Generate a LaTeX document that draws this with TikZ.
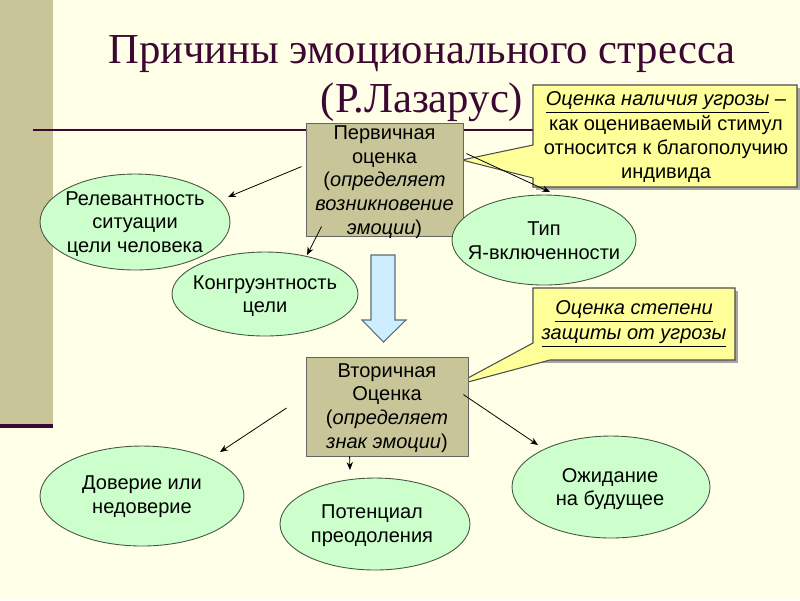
\documentclass[tikz,border=0pt]{standalone}
\usepackage{fontspec}
\setmainfont{Liberation Sans}
\newfontfamily\titlefont{Liberation Serif}
\usetikzlibrary{shapes.geometric,arrows.meta,calc}
\definecolor{bg}{RGB}{255,255,232}
\definecolor{khaki}{RGB}{200,198,152}
\definecolor{mint}{RGB}{204,255,204}
\definecolor{ttl}{RGB}{60,8,50}
\definecolor{callfill}{RGB}{255,255,153}
\definecolor{blueish}{RGB}{204,238,255}
\definecolor{ellline}{RGB}{70,85,70}
\begin{document}
\begin{tikzpicture}[x=0.02cm,y=-0.02cm,
  font=\fontsize{11.4}{13.5}\selectfont,
  ell/.style={ellipse, draw=ellline, fill=mint, line width=0.5pt, inner sep=0pt},
  txt/.style={align=center, inner sep=0pt},
  box/.style={rectangle, draw=black!60, fill=khaki, line width=0.5pt, inner sep=0pt, align=center},
  arr/.style={-{Stealth[length=4.5pt,width=3.6pt]}, line width=0.45pt},
  callout/.style={draw=black!70, fill=callfill, line width=0.6pt},
  shadowc/.style={fill=black!35, draw=none},
  ttlstyle/.style={font=\titlefont\fontsize{24.3}{28}\selectfont, text=ttl, inner sep=0pt, anchor=base}
]
\useasboundingbox (0,0) rectangle (800,600);
\fill[bg] (0,0) rectangle (800,600);
% left bar
\fill[khaki] (0,0) rectangle (53,425);
\fill[ttl] (0,424) rectangle (53,428);
% title line
\draw[ttl, line width=1.1pt] (33,130) -- (540,130);
% title
\node[ttlstyle] (t1) at (422,63) {Причины эмоционального стресса};
\node[ttlstyle] (t2) at (422,112) {(Р.Лазарус)};
% callout 1
\fill[shadowc] (536,88) -- (800,88) -- (800,190) -- (536,190) -- cycle;
\path[callout] (533,85) -- (797,85) -- (797,187) -- (533,187) -- (533,178) -- (462,160) -- (533,145) -- cycle;
\node[txt] (c1) at (666,137) {\underline{\textit{Оценка наличия угрозы}} –\\[0.6pt]как оцениваемый стимул\\относится к благополучию\\индивида};
% callout 2
\fill[shadowc] (536,291) -- (738,291) -- (738,363) -- (536,363) -- cycle;
\path[callout] (533,288) -- (735,288) -- (735,360) -- (550,360) -- (453,386) -- (533,343) -- cycle;
\node[txt] (c2) at (634,324) {\underline{\textit{Оценка степени}}\\[1pt]\underline{\textit{защиты от угрозы}}};
% boxes
\node[box, minimum width=3.14cm, minimum height=2.26cm] (prim) at (384.5,179.5) {};
\node[txt] at (384.5,182) {Первичная\\оценка\\(\textit{определяет}\\\textit{возникновение}\\\textit{эмоции})};
\node[box, minimum width=3.24cm, minimum height=1.98cm] (sec) at (387,406.5) {};
\node[txt] at (387,408) {Вторичная\\Оценка\\(\textit{определяет}\\\textit{знак эмоции})};
% ellipses
\node[ell, minimum width=3.8cm, minimum height=1.92cm] (rel) at (135,222) {};
\node[txt] at (135,224) {Релевантность\\ситуации\\ цели человека};
\node[ell, minimum width=3.72cm, minimum height=1.68cm] (kon) at (265,294) {};
\node[txt] at (265,296) {Конгруэнтность\\цели};
\node[ell, minimum width=3.68cm, minimum height=1.8cm] (tip) at (544,240) {};
\node[txt] at (544,241) {Тип\\Я-включенности};
\node[ell, minimum width=4.08cm, minimum height=2.0cm] (dov) at (142,496) {};
\node[txt] at (142,497) {Доверие или\\недоверие};
\node[ell, minimum width=3.8cm, minimum height=1.84cm] (pot) at (375,524) {};
\node[txt] at (372,526) {Потенциал\\преодоления};
\node[ell, minimum width=3.96cm, minimum height=2.04cm] (ozh) at (611,487) {};
\node[txt] at (610,489) {Ожидание\\на будущее};
% arrows
\draw[arr] ($(prim.north west)+(-4,44)$) -- ($(rel.center)+(93,-25)$);
\draw[arr] ($(prim.south west)+(16,-10)$) -- ($(kon.center)+(42,-39)$);
\draw[arr] ($(prim.north east)+(3,31)$) -- ($(tip.center)+(6,-48)$);
\draw[arr] ($(sec.west)+(-19,1.5)$) -- ($(dov.center)+(78,-44)$);
\draw[arr] ($(sec.south west)+(44,0)$) -- ($(pot.center)+(-25,-54)$);
\draw[arr] ($(sec.north east)+(-5,38)$) -- ($(ozh.center)+(-73,-42)$);
% big arrow
\draw[fill=blueish, draw={rgb,255:red,90;green,110;blue,120}, line width=0.6pt, line join=miter]
  (371,255) -- (395,255) -- (395,320) -- (406,320) -- (383.5,342) -- (362,320) -- (371,320) -- cycle;
\end{tikzpicture}
\end{document}
